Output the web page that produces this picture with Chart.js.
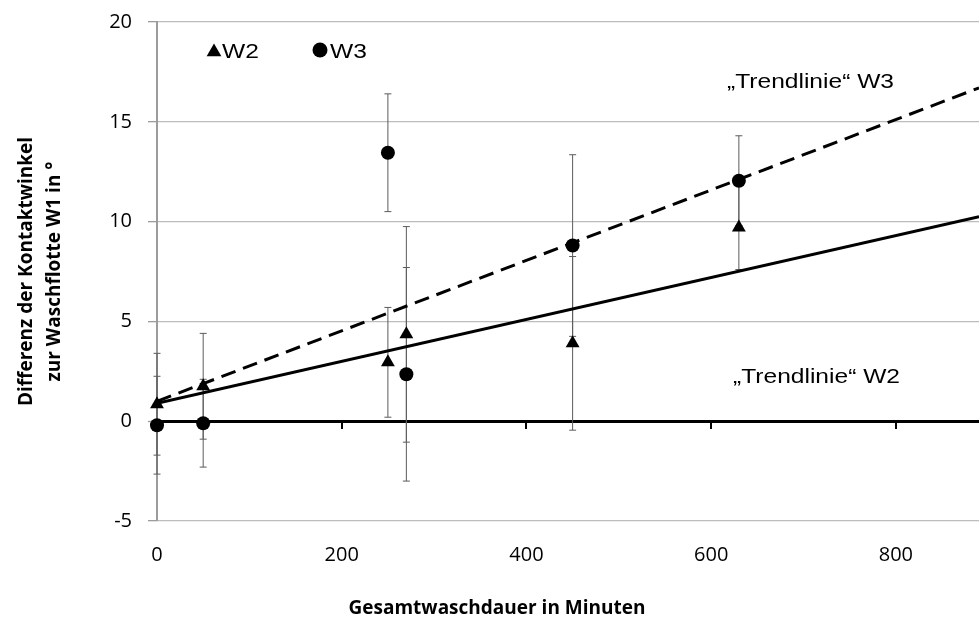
<!DOCTYPE html>
<html lang="de">
<head>
<meta charset="utf-8">
<title>Kontaktwinkel nach Waschdauer</title>
<script src="https://cdn.jsdelivr.net/npm/chart.js@4.4.1/dist/chart.umd.min.js"></script>
<style>
  html, body { margin: 0; padding: 0; background: #fff; }
  canvas { display: block; }
</style>
</head>
<body>
<canvas id="chart" width="979" height="621"></canvas>
<script>
// Gesamtwaschdauer der Messpunkte in Minuten
const minutes = [0, 50, 250, 270, 450, 630];

// Differenz der Kontaktwinkel zu W1 in Grad, mit Standardabweichung
const w2Values = [0.85, 1.75, 2.95, 4.35, 3.9, 9.7];
const w2Errors = [2.55, 2.65, 2.75, 5.4, 4.35, 2.1];
const w3Values = [-0.2, -0.1, 13.45, 2.35, 8.8, 12.05];
const w3Errors = [2.45, 2.2, 2.95, 5.35, 4.55, 2.25];

// Trendlinien, Endpunkte am linken und rechten Rand
const trendMinutes = [0, 890];
const trendW2 = [0.9, 10.25];
const trendW3 = [1.0, 16.7];

const xTicks = [0, 200, 400, 600, 800];
const yTicks = [-5, 0, 5, 10, 15, 20];

const tickFont = { family: '"Open Sans", "Noto Sans", sans-serif', size: 20 };
const titleFamily = '"Open Sans", "Noto Sans", sans-serif';
const noteFont = '21px "Liberation Sans", Arial, sans-serif';

const toPoints = (xs, ys) => xs.map((x, i) => ({ x: x, y: ys[i] }));

// feste Achsenmaße, ohne Zusatzabstand für die Randbeschriftungen
function fixSize(width, height) {
  return s => {
    if (width !== null) s.width = width;
    if (height !== null) s.height = height;
    s.paddingTop = 0;
    s.paddingBottom = 0;
    s.paddingLeft = 0;
    s.paddingRight = 0;
  };
}

// Fehlerbalken unter den Markern zeichnen
const errorBars = {
  id: 'errorBars',
  beforeDatasetsDraw(chart) {
    const { ctx, scales: { x, y } } = chart;
    ctx.save();
    ctx.strokeStyle = '#5c5c5c';
    ctx.lineWidth = 1;
    chart.data.datasets.forEach(ds => {
      if (!ds.errors) return;
      ds.data.forEach((p, i) => {
        const px = x.getPixelForValue(p.x);
        const top = y.getPixelForValue(p.y + ds.errors[i]);
        const bot = y.getPixelForValue(p.y - ds.errors[i]);
        ctx.beginPath();
        ctx.moveTo(px, top); ctx.lineTo(px, bot);
        ctx.moveTo(px - 3.5, top); ctx.lineTo(px + 3.5, top);
        ctx.moveTo(px - 3.5, bot); ctx.lineTo(px + 3.5, bot);
        ctx.stroke();
      });
    });
    ctx.restore();
  }
};

// Text leicht in die Breite gezogen, wie im Original
function wideText(ctx, text, x, y) {
  ctx.save();
  ctx.translate(x, y);
  ctx.scale(1.17, 1);
  ctx.fillText(text, 0, 0);
  ctx.restore();
}

// Legende, Beschriftung der Trendlinien und Titel der x-Achse
const notes = {
  id: 'notes',
  afterDraw(chart) {
    const { ctx } = chart;
    ctx.save();
    ctx.fillStyle = '#000';
    ctx.font = noteFont;
    ctx.textBaseline = 'alphabetic';
    ctx.textAlign = 'left';

    Chart.helpers.drawPoint(ctx, { pointStyle: 'triangle', radius: 8.5, borderWidth: 0 }, 214, 52);
    wideText(ctx, 'W2', 222, 58);
    Chart.helpers.drawPoint(ctx, { pointStyle: 'circle', radius: 7.5, borderWidth: 0 }, 320, 50);
    wideText(ctx, 'W3', 330, 58);

    wideText(ctx, '\u201ETrendlinie\u201C W3', 727, 88);
    wideText(ctx, '\u201ETrendlinie\u201C W2', 733, 383);

    ctx.font = 'bold 19px ' + titleFamily;
    ctx.textAlign = 'center';
    ctx.textBaseline = 'middle';
    ctx.fillText('Gesamtwaschdauer in Minuten', 497, 609);
    ctx.restore();
  }
};

new Chart(document.getElementById('chart'), {
  type: 'scatter',
  data: {
    datasets: [
      {
        label: 'W2',
        data: toPoints(minutes, w2Values),
        errors: w2Errors,
        pointStyle: 'triangle',
        pointRadius: 8,
        backgroundColor: '#000',
        borderColor: '#000',
        borderWidth: 0,
        clip: false
      },
      {
        label: 'W3',
        data: toPoints(minutes, w3Values),
        errors: w3Errors,
        pointStyle: 'circle',
        pointRadius: 7,
        backgroundColor: '#000',
        borderColor: '#000',
        borderWidth: 0,
        clip: false
      },
      {
        label: 'Trendlinie W2',
        type: 'line',
        data: toPoints(trendMinutes, trendW2),
        borderColor: '#000',
        borderWidth: 3,
        pointRadius: 0,
        fill: false
      },
      {
        label: 'Trendlinie W3',
        type: 'line',
        data: toPoints(trendMinutes, trendW3),
        borderColor: '#000',
        borderWidth: 3,
        borderDash: [15, 8],
        pointRadius: 0,
        fill: false
      }
    ]
  },
  options: {
    responsive: false,
    animation: false,
    layout: { autoPadding: false, padding: { top: 22, right: 0, bottom: 0, left: 0 } },
    plugins: {
      legend: { display: false },
      tooltip: { enabled: false }
    },
    scales: {
      x: {
        type: 'linear',
        position: 'bottom',
        min: 0,
        max: 890,
        afterBuildTicks: s => { s.ticks = xTicks.map(v => ({ value: v })); },
        afterFit: fixSize(null, 100),
        grid: { display: false },
        border: { display: false },
        ticks: { color: '#000', font: tickFont, padding: 14 }
      },
      // Achse auf der Nulllinie, nur mit Teilstrichen
      xZero: {
        type: 'linear',
        axis: 'x',
        position: { y: 0 },
        min: 0,
        max: 890,
        afterBuildTicks: s => { s.ticks = xTicks.map(v => ({ value: v })); },
        afterFit: fixSize(null, 0),
        ticks: { display: false },
        grid: { drawOnChartArea: false, drawTicks: true, tickLength: 8, color: '#000', lineWidth: 2 },
        border: { display: false }
      },
      y: {
        type: 'linear',
        min: -5,
        max: 20,
        afterBuildTicks: s => { s.ticks = yTicks.map(v => ({ value: v })); },
        afterFit: fixSize(157, null),
        grid: {
          color: c => (c.tick && c.tick.value === 0 ? '#000' : '#bdbdbd'),
          lineWidth: c => (c.tick && c.tick.value === 0 ? 3 : 1.3),
          tickColor: '#9c9c9c',
          tickWidth: 1.3,
          tickLength: 9
        },
        border: { color: '#9c9c9c', width: 2 },
        ticks: { color: '#000', font: tickFont, padding: 16 },
        title: {
          display: true,
          text: ['Differenz der Kontaktwinkel', 'zur Waschflotte W1 in \u00B0'],
          color: '#000',
          font: { family: titleFamily, size: 19, weight: 'bold', lineHeight: 1.5 },
          padding: { top: 12, bottom: 0 }
        }
      }
    }
  },
  plugins: [errorBars, notes]
});
</script>
</body>
</html>
